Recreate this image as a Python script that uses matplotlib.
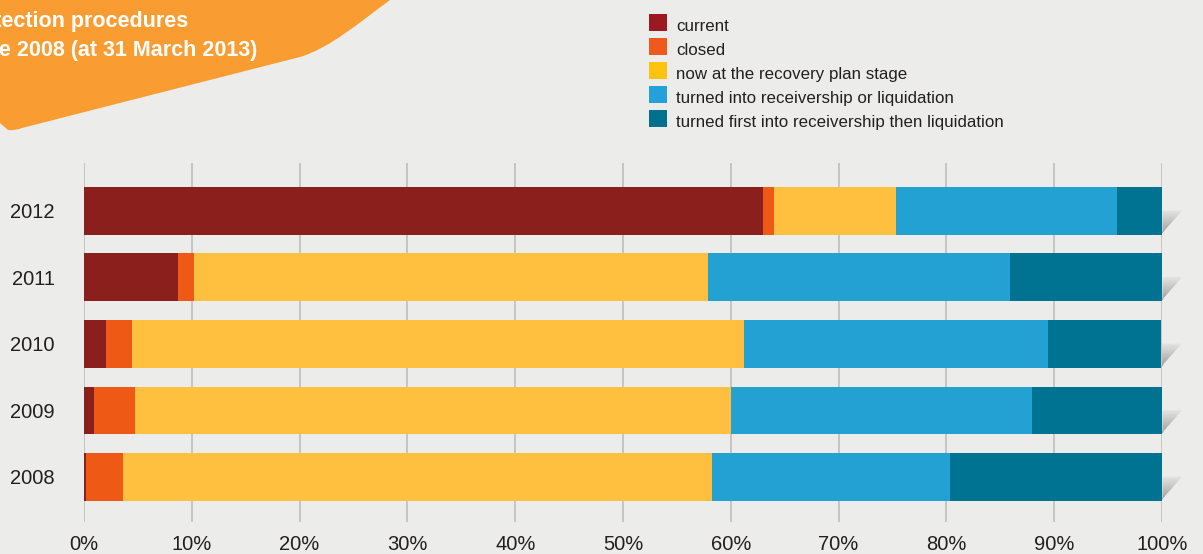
import numpy as np
import matplotlib
matplotlib.use("Agg")
import matplotlib.pyplot as plt
from matplotlib.colors import LinearSegmentedColormap
from matplotlib.patches import Polygon, PathPatch, Rectangle
from matplotlib.path import Path

# ---- data -------------------------------------------------------------
years = ["2008", "2009", "2010", "2011", "2012"]
current = [0.2, 0.9, 2.0, 8.7, 63.0]
closed = [3.4, 3.8, 2.45, 1.5, 1.0]
recovery_plan = [54.7, 55.3, 56.8, 47.7, 11.3]
receivership_or_liquidation = [22.0, 27.9, 28.2, 28.0, 20.5]
receivership_then_liquidation = [19.7, 12.1, 10.5, 14.1, 4.2]

series_labels = [
    "current",
    "closed",
    "now at the recovery plan stage",
    "turned into receivership or liquidation",
    "turned first into receivership then liquidation",
]
x_ticks = [0, 10, 20, 30, 40, 50, 60, 70, 80, 90, 100]
x_tick_labels = [f"{t}%" for t in x_ticks]

# ---- style ------------------------------------------------------------
BG = "#ECEDEB"
bar_colors = ["#8B1F1B", "#EE5A16", "#FFC040", "#23A1D3", "#007392"]
legend_colors = ["#9A1A1F", "#EE5A1E", "#FFC20E", "#23A1D8", "#00708F"]
ORANGE = "#F99D33"
GRID = "#BDBDBD"
TEXT = "#231F20"

W, H = 1203, 554
fig = plt.figure(figsize=(W / 100, H / 100), dpi=100)
fig.patch.set_facecolor(BG)

def px(x0, y0, x1, y1):
    """Figure-fraction rectangle from pixel box (top-left origin)."""
    return [x0 / W, 1 - y1 / H, (x1 - x0) / W, (y1 - y0) / H]

# ---- orange title banner ----------------------------------------------
verts = [(0, -5), (392, -5), (390, 0),
         (360, 22), (330, 48), (300, 57),
         (22, 128),
         (15, 131), (8, 130),
         (0, 123), (0, -5)]
codes = [Path.MOVETO, Path.LINETO, Path.LINETO,
         Path.CURVE4, Path.CURVE4, Path.CURVE4,
         Path.LINETO,
         Path.CURVE3, Path.CURVE3,
         Path.LINETO, Path.CLOSEPOLY]
fverts = [(x / W, 1 - y / H) for x, y in verts]
banner = PathPatch(Path(fverts, codes), facecolor=ORANGE, edgecolor="none",
                   transform=fig.transFigure)
fig.patches.append(banner)

title_font = dict(family="Liberation Sans", weight="bold", color="white",
                  fontsize=15.5, ha="right", va="baseline")
fig.text(188 / W, 1 - 27 / H, "Outcome of protection procedures", **title_font)
fig.text(257 / W, 1 - 56 / H, "opened since 2008 (at 31 March 2013)", **title_font)

# ---- legend -----------------------------------------------------------
leg_y = [22.7, 46.7, 70.7, 94.7, 118.7]
for lab, col, yc in zip(series_labels, legend_colors, leg_y):
    fig.patches.append(Rectangle((649 / W, 1 - (yc + 8.5) / H), 17.5 / W, 17 / H,
                                 facecolor=col, edgecolor="none",
                                 transform=fig.transFigure))
    fig.text(676 / W, 1 - (yc + 8) / H, lab, family="Liberation Sans",
             fontsize=12.2, color=TEXT, ha="left", va="baseline")

# ---- bars -------------------------------------------------------------
ax = fig.add_axes(px(84, 163, 1162, 522))
ax.set_facecolor("none")
ypos = np.arange(len(years))
bar_h = 0.72

for xt in x_ticks:
    ax.axvline(xt, color=GRID, lw=1.2, zorder=0)

series = [current, closed, recovery_plan, receivership_or_liquidation,
          receivership_then_liquidation]
left = np.zeros(len(years))
for vals, col in zip(series, bar_colors):
    vals = np.asarray(vals)
    ax.barh(ypos, vals, left=left, height=bar_h, color=col,
            edgecolor="none", zorder=2)
    left = left + vals

# folded-corner shadow at the end of each bar: a right triangle shaded
# in horizontal bands, light at the top and darker towards the bottom
fold_cmap = LinearSegmentedColormap.from_list("fold", ["#E2E2E2", "#A2A2A2"])
n_steps = 16
fold_w = 1.8
for y, total in zip(ypos, left):
    x0 = total
    y_top, y_bot = y, y - bar_h / 2 + 0.03
    hgt = y_top - y_bot
    for k in range(n_steps):
        f0, f1 = k / n_steps, (k + 1) / n_steps          # fraction from top
        ya, yb = y_top - hgt * f0, y_top - hgt * f1
        wa, wb = fold_w * (1 - f0), fold_w * (1 - f1)
        c = fold_cmap(k / (n_steps - 1))
        band = Polygon([(x0 + 0.08, ya), (x0 + wa, ya), (x0 + wb, yb), (x0 + 0.08, yb)],
                       closed=True, facecolor=c, edgecolor=c, lw=0.4,
                       joinstyle="miter", zorder=1, clip_on=False)
        ax.add_patch(band)

ax.set_xlim(0, 100)
ax.set_ylim(-0.677, 4.72)

for s in ax.spines.values():
    s.set_visible(False)

tick_font = dict(family="Liberation Sans", size=14.5, color=TEXT)
ax.set_yticks(ypos)
ax.set_yticklabels(years, **tick_font)
ax.set_xticks(x_ticks)
ax.set_xticklabels(x_tick_labels, **tick_font)
ax.tick_params(axis="y", length=0, pad=21)
ax.tick_params(axis="x", length=0, pad=9)

fig.savefig("out.png", dpi=100, facecolor=BG)
